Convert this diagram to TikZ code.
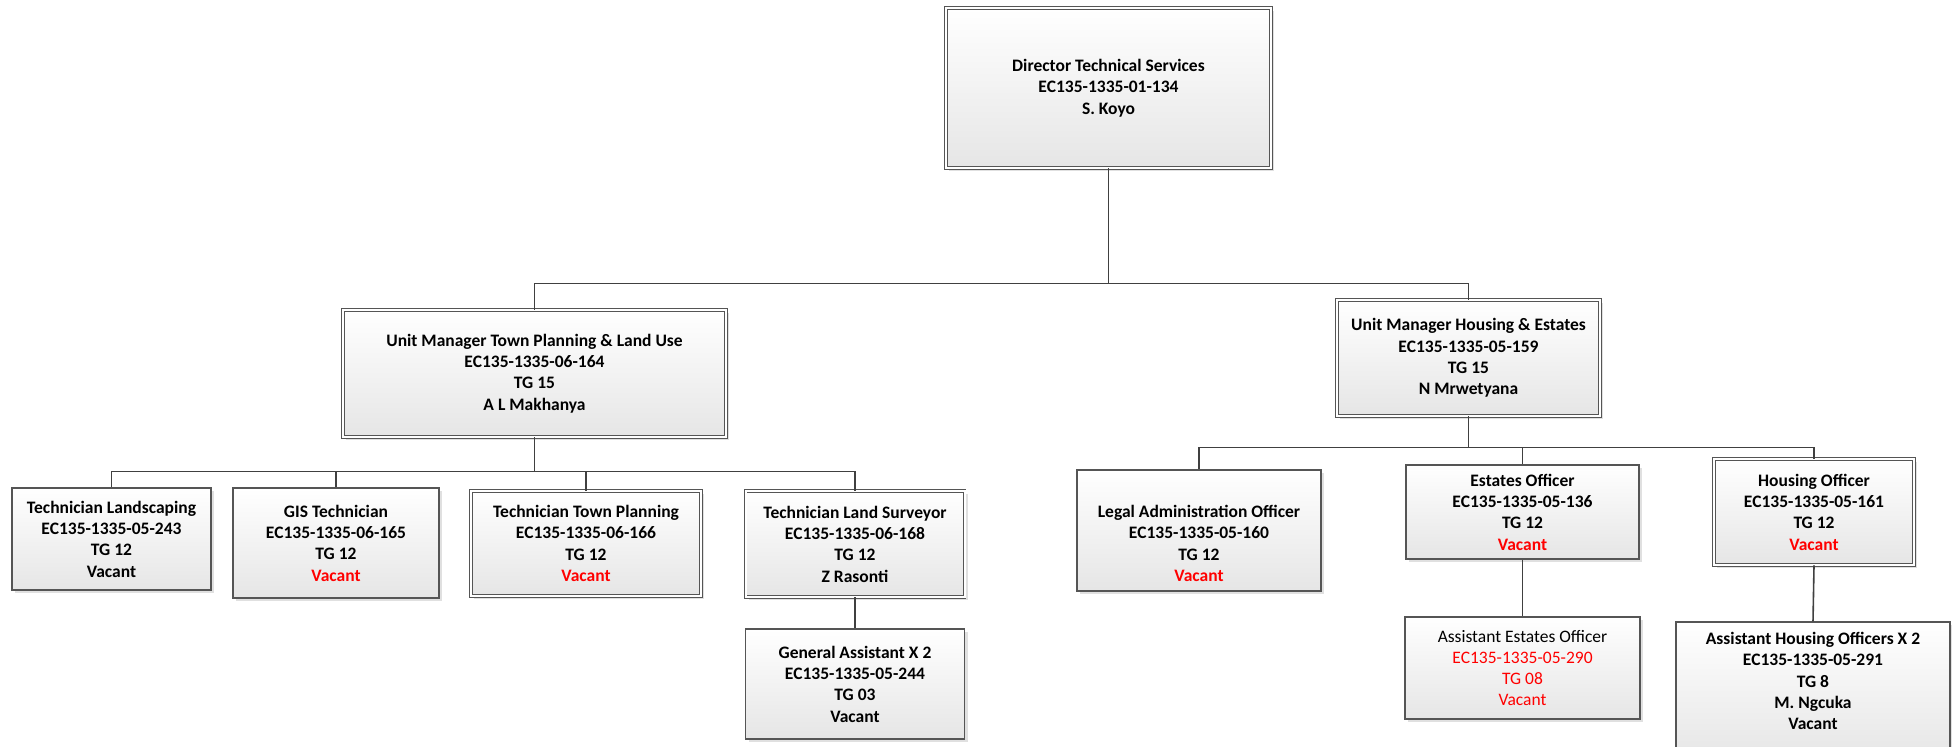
\documentclass[tikz,border=0pt]{standalone}
\usepackage{fontspec}
\setmainfont{Carlito}
\usetikzlibrary{shadows}
\definecolor{bd}{HTML}{555555}
\definecolor{ln}{HTML}{404040}
\definecolor{vr}{HTML}{FF0000}
\begin{document}
\begin{tikzpicture}[x=1pt,y=-1pt,
  box/.style={rectangle, draw=bd, line width=1.1pt, top color=white, bottom color=black!10,
    drop shadow={shadow xshift=3pt, shadow yshift=-3pt, fill=black!12, opacity=1},
    align=center, inner sep=0pt, font=\fontsize{17.5}{21.3}\selectfont\bfseries},
  dbox/.style={box, double=white, double distance=2pt, line width=0.9pt},
  wire/.style={draw=ln, line width=1.6pt}]
\useasboundingbox (0,0) rectangle (1952,747);
\fill[white] (0,0) rectangle (1952,747);

% level 1
\node[dbox, minimum width=325pt, minimum height=160pt] (dir) at (1108.5,88)
  {Director Technical Services\\EC135-1335-01-134\\S. Koyo};

% level 2
\node[dbox, minimum width=383pt, minimum height=127pt] (umtp) at (534.5,373.5)
  {Unit Manager Town Planning \& Land Use\\EC135-1335-06-164\\TG 15\\A L Makhanya};
\node[dbox, minimum width=263pt, minimum height=116pt] (umhe) at (1468.5,358)
  {Unit Manager Housing \& Estates\\EC135-1335-05-159\\TG 15\\N Mrwetyana};

% level 3 left
\node[box, minimum width=199pt, minimum height=102pt] (tl) at (111.5,539)
  {Technician Landscaping\\EC135-1335-05-243\\TG 12\\Vacant};
\node[box, minimum width=206pt, minimum height=110pt] (gis) at (336,543)
  {GIS Technician\\EC135-1335-06-165\\TG 12\\\textcolor{vr}{Vacant}};
\node[dbox, minimum width=230pt, minimum height=105pt] (ttp) at (586,543.5)
  {Technician Town Planning\\EC135-1335-06-166\\TG 12\\\textcolor{vr}{Vacant}};
\node[dbox, minimum width=219pt, minimum height=106pt] (tls) at (855,544)
  {Technician Land Surveyor\\EC135-1335-06-168\\TG 12\\Z Rasonti};
\node[box, minimum width=219pt, minimum height=110pt] (ga) at (855,684)
  {General Assistant X 2\\EC135-1335-05-244\\TG 03\\Vacant};

% level 3 right
\node[box, minimum width=244pt, minimum height=121pt, text height=102pt] (lao) at (1199,530.5)
  {Legal Administration Officer\\EC135-1335-05-160\\TG 12\\\textcolor{vr}{Vacant}};
\node[box, minimum width=233pt, minimum height=94pt] (eo) at (1522.5,512)
  {Estates Officer\\EC135-1335-05-136\\TG 12\\\textcolor{vr}{Vacant}};
\node[box, minimum width=235pt, minimum height=102pt, font=\fontsize{17.5}{21.3}\selectfont] (aeo) at (1522.5,668)
  {Assistant Estates Officer\\\textcolor{vr}{EC135-1335-05-290}\\\textcolor{vr}{TG 08}\\\textcolor{vr}{Vacant}};
\node[dbox, minimum width=200pt, minimum height=106pt] (ho) at (1814,512)
  {Housing Officer\\EC135-1335-05-161\\TG 12\\\textcolor{vr}{Vacant}};
\node[box, minimum width=274pt, minimum height=140pt, text depth=22pt] (aho) at (1813,692)
  {Assistant Housing Officers X 2\\EC135-1335-05-291\\TG 8\\M. Ngcuka\\Vacant};

% connectors
\draw[wire] (dir.south) -- ++(0,115) -| (umtp.north);
\draw[wire] (dir.south) -- ++(0,115) -| (umhe.north);
\foreach \n in {tl,gis,ttp,tls}
  \draw[wire] (umtp.south) -- ++(0,34) -| (\n.north);
\draw[wire] (tls.south) -- (ga.north);
\foreach \n in {lao,eo,ho}
  \draw[wire] (umhe.south) -- ++(0,31) -| (\n.north);
\draw[wire] (eo.south) -- (aeo.north);
\draw[wire] (ho.south) -- (aho.north);
\end{tikzpicture}
\end{document}
